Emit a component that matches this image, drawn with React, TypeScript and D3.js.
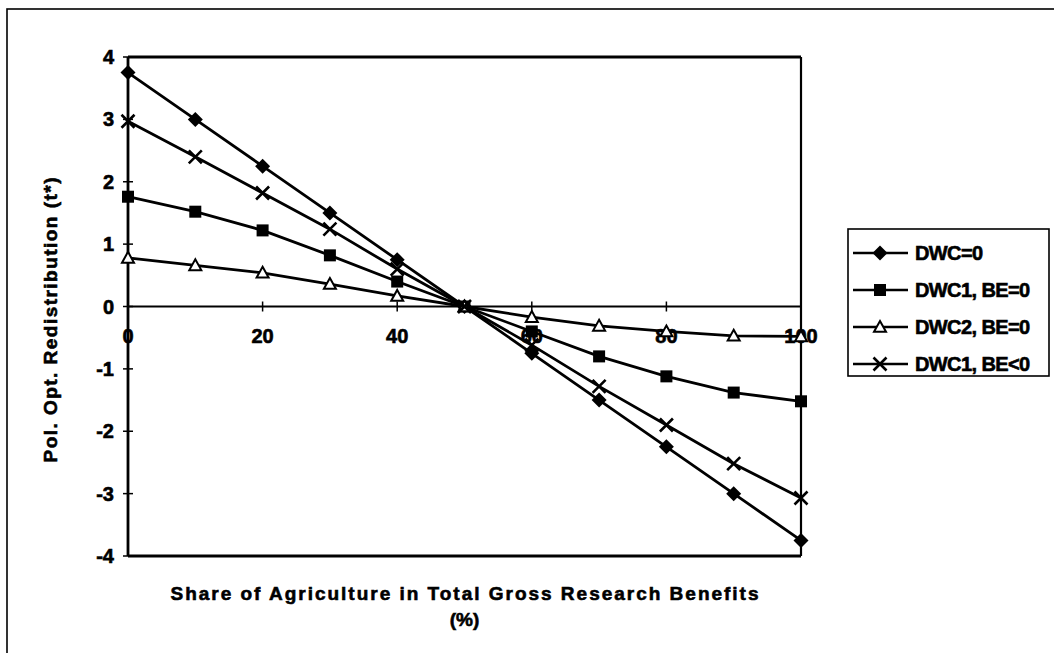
import React from "react";
import * as d3 from "d3";

const xValues = [0, 10, 20, 30, 40, 50, 60, 70, 80, 90, 100];
const dwc0 = [3.75, 3.0, 2.25, 1.5, 0.75, 0, -0.75, -1.5, -2.25, -3.0, -3.75];
const dwc1be0 = [1.76, 1.52, 1.22, 0.82, 0.4, 0, -0.4, -0.8, -1.12, -1.38, -1.52];
const dwc2be0 = [0.78, 0.66, 0.54, 0.36, 0.17, 0, -0.17, -0.31, -0.4, -0.47, -0.48];
const dwc1beNeg = [2.97, 2.4, 1.82, 1.24, 0.6, 0, -0.62, -1.28, -1.9, -2.52, -3.07];
const xTicks = [0, 20, 40, 60, 80, 100];
const yTicks = [-4, -3, -2, -1, 0, 1, 2, 3, 4];

const seriesList = [
  { name: "DWC=0", values: dwc0, marker: "diamond" },
  { name: "DWC1, BE=0", values: dwc1be0, marker: "square" },
  { name: "DWC2, BE=0", values: dwc2be0, marker: "triangle" },
  { name: "DWC1, BE<0", values: dwc1beNeg, marker: "cross" },
];

const W = 1054;
const H = 653;
const plot = { left: 128, right: 801, top: 57, bottom: 556 };
const FONT = "'Liberation Sans', Arial, sans-serif";

function Marker({ type, x, y }: { type: string; x: number; y: number }) {
  if (type === "diamond") {
    const s = 7.5;
    return <path d={`M${x},${y - s}L${x + s},${y}L${x},${y + s}L${x - s},${y}Z`} fill="#000" />;
  }
  if (type === "square") {
    const s = 6;
    return <rect x={x - s} y={y - s} width={2 * s} height={2 * s} fill="#000" />;
  }
  if (type === "triangle") {
    const s = 6;
    return (
      <path
        d={`M${x},${y - s}L${x + s},${y + s * 0.8}L${x - s},${y + s * 0.8}Z`}
        fill="#fff"
        stroke="#000"
        strokeWidth={2}
      />
    );
  }
  const s = 6.5;
  return (
    <path
      d={`M${x - s},${y - s}L${x + s},${y + s}M${x - s},${y + s}L${x + s},${y - s}`}
      stroke="#000"
      strokeWidth={2.6}
      fill="none"
    />
  );
}

export default function App() {
  const x = d3.scaleLinear().domain([0, 100]).range([plot.left, plot.right]);
  const y = d3.scaleLinear().domain([-4, 4]).range([plot.bottom, plot.top]);
  const line = d3
    .line<number>()
    .x((_, i) => x(xValues[i]))
    .y((v) => y(v));

  const legend = { x: 848, y: 229, w: 201, h: 147 };
  const legendRows = [253, 290, 327, 364];
  const heavy = { stroke: "#000", strokeWidth: 0.6 };

  return (
    <svg
      width={W}
      height={H}
      style={{ position: "absolute", left: 0, top: 0, background: "#fff" }}
      fontFamily={FONT}
    >
      <rect x={0} y={0} width={W} height={H} fill="#fff" />
      {/* outer frame (right/bottom off-page) */}
      <rect x={7} y={9} width={W + 20} height={H + 20} fill="none" stroke="#000" strokeWidth={1.6} />

      {/* plot frame */}
      <line x1={plot.left} y1={plot.top} x2={plot.right} y2={plot.top} stroke="#000" strokeWidth={2.8} />
      <line x1={plot.right} y1={plot.top} x2={plot.right} y2={plot.bottom} stroke="#000" strokeWidth={2.2} />
      <line x1={plot.left} y1={plot.bottom} x2={plot.right} y2={plot.bottom} stroke="#000" strokeWidth={2.8} />

      {/* zero line as x axis */}
      <line x1={plot.left} y1={y(0)} x2={plot.right} y2={y(0)} stroke="#000" strokeWidth={1.8} />
      {xTicks.map((t) => (
        <g key={"xt" + t}>
          <line x1={x(t)} x2={x(t)} y1={y(0) - 5} y2={y(0) + 5} stroke="#000" strokeWidth={1.5} />
          <text
            x={x(t)}
            y={y(0) + 36}
            textAnchor="middle"
            fontSize={20}
            fontWeight="bold"
            {...heavy}
          >
            {t}
          </text>
        </g>
      ))}

      {/* y axis */}
      <line x1={plot.left} y1={plot.top} x2={plot.left} y2={plot.bottom} stroke="#000" strokeWidth={2.8} />
      {yTicks.map((t) => (
        <g key={"yt" + t}>
          <line x1={plot.left - 5} x2={plot.left + 5} y1={y(t)} y2={y(t)} stroke="#000" strokeWidth={1.5} />
          <text x={114} y={y(t)} dy="0.35em" textAnchor="end" fontSize={20} fontWeight="bold" {...heavy}>
            {t}
          </text>
        </g>
      ))}

      {/* series */}
      {seriesList.map((s) => (
        <g key={s.name}>
          <path d={line(s.values) || ""} fill="none" stroke="#000" strokeWidth={2.8} />
          {s.values.map((v, i) => (
            <Marker key={i} type={s.marker} x={x(xValues[i])} y={y(v)} />
          ))}
        </g>
      ))}

      {/* axis titles */}
      <text
        x={(plot.left + plot.right) / 2}
        y={600}
        textAnchor="middle"
        fontSize={19}
        fontWeight="bold"
        textLength={588}
        lengthAdjust="spacing"
        {...heavy}
      >
        Share of Agriculture in Total Gross Research Benefits
      </text>
      <text x={(plot.left + plot.right) / 2} y={626} textAnchor="middle" fontSize={19} fontWeight="bold" {...heavy}>
        (%)
      </text>
      <text
        transform={`translate(57,320) rotate(-90)`}
        textAnchor="middle"
        fontSize={19}
        fontWeight="bold"
        textLength={285}
        lengthAdjust="spacing"
        {...heavy}
      >
        Pol. Opt. Redistribution (t*)
      </text>

      {/* legend */}
      <rect x={legend.x} y={legend.y} width={legend.w} height={legend.h} fill="#fff" stroke="#000" strokeWidth={1.6} />
      {seriesList.map((s, i) => (
        <g key={"lg" + s.name}>
          <line x1={853} x2={908} y1={legendRows[i]} y2={legendRows[i]} stroke="#000" strokeWidth={2.6} />
          <Marker type={s.marker} x={880} y={legendRows[i]} />
          <text
            x={915}
            y={legendRows[i]}
            dy="0.35em"
            fontSize={20}
            fontWeight="bold"
            letterSpacing={-0.6}
            {...heavy}
          >
            {s.name}
          </text>
        </g>
      ))}
    </svg>
  );
}
